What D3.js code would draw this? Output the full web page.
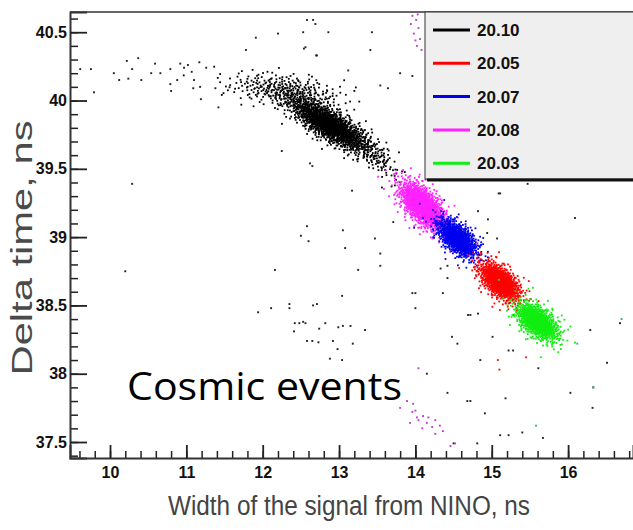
<!DOCTYPE html>
<html>
<head>
<meta charset="utf-8">
<script src="https://cdn.jsdelivr.net/npm/d3@7"></script>
<style>
  body { margin: 0; background: #fff; }
  svg { display: block; }
  .tick text { font-family: "Liberation Sans Narrow", "Liberation Sans", Arial, sans-serif; font-weight: bold; fill: #111; }
</style>
</head>
<body>
<script>
// runs in the legend
var runNames = ["20.10", "20.05", "20.07", "20.08", "20.03"];
var runColours = ["#000000", "#ff0000", "#0000ee", "#ff22ff", "#11ee11"];

// dense clouds:
// [run, centre x, centre y, sigma x, sigma y, correlation, events]
var clouds = [
  ["20.10", 12.30, 40.07, 0.38, 0.065, -0.4, 320],
  ["20.10", 12.88, 39.82, 0.26, 0.10, -0.8, 1500],
  ["20.10", 13.50, 39.58, 0.15, 0.09, -0.7, 100],
  ["20.08", 14.09, 39.23, 0.20, 0.12, -0.6, 120],
  ["20.08", 14.09, 39.23, 0.141, 0.083, -0.6, 1200],
  ["20.07", 14.55, 38.99, 0.18, 0.10, -0.6, 90],
  ["20.07", 14.55, 38.99, 0.128, 0.068, -0.6, 900],
  ["20.05", 15.11, 38.67, 0.19, 0.11, -0.6, 100],
  ["20.05", 15.11, 38.67, 0.13, 0.07, -0.6, 900],
  ["20.03", 15.60, 38.38, 0.19, 0.10, -0.55, 100],
  ["20.03", 15.60, 38.38, 0.13, 0.065, -0.55, 900]
];

// single stray events
var strayBlack = [
  [9.61, 40.23], [9.75, 40.23], [9.79, 40.06], [10.05, 40.20], [10.12, 40.15], [10.22, 40.29],
  [10.24, 40.16], [10.29, 40.23], [10.37, 40.31], [10.41, 40.15], [10.54, 40.20], [10.59, 40.27],
  [10.66, 40.20], [10.79, 40.23], [10.79, 40.12], [10.80, 40.07], [10.88, 40.15], [10.92, 40.27],
  [10.97, 40.24], [11.02, 40.26], [11.07, 40.21], [11.10, 40.15], [11.09, 40.09], [11.17, 40.28],
  [11.18, 40.10], [11.19, 40.01], [11.26, 40.24], [11.38, 40.09], [11.42, 39.95], [10.29, 39.39],
  [11.78, 40.37], [11.91, 40.46], [12.20, 40.49], [12.53, 40.50], [12.66, 40.59], [12.54, 40.38],
  [12.70, 40.33], [12.25, 39.63], [12.62, 39.54], [12.58, 39.08], [12.50, 39.01], [12.60, 38.97],
  [12.58, 40.59], [12.69, 40.56], [12.86, 40.50], [13.43, 40.50], [12.56, 40.39], [12.71, 40.33],
  [13.12, 40.22], [13.41, 40.37], [13.54, 40.11], [13.64, 40.09], [13.80, 40.20], [13.96, 40.18],
  [12.65, 39.52], [13.17, 39.34], [13.05, 39.05], [13.08, 38.92], [13.47, 38.99], [13.54, 38.88],
  [15.09, 39.32], [16.09, 39.14], [14.82, 39.19], [14.94, 39.03], [13.71, 39.11], [14.33, 38.77],
  [14.42, 38.70], [13.96, 38.59], [14.95, 39.13], [15.07, 38.99], [15.47, 39.39], [15.11, 39.32],
  [10.20, 38.75], [12.16, 38.76], [11.94, 38.45], [12.11, 38.48], [12.35, 38.51], [12.35, 38.48],
  [12.66, 38.50], [12.42, 38.37], [12.48, 38.37], [12.53, 38.38], [12.41, 38.31], [12.58, 38.24],
  [12.65, 38.24], [12.73, 38.23], [12.74, 38.33], [12.56, 38.37], [12.71, 38.51], [12.82, 38.37],
  [12.99, 38.34], [13.05, 38.35], [13.15, 38.35], [12.92, 38.24], [12.98, 38.18], [12.88, 38.11],
  [13.04, 38.10], [13.18, 38.22], [13.34, 38.32], [13.04, 38.57], [13.25, 38.76], [13.54, 38.79],
  [14.00, 38.59], [14.00, 38.48], [14.36, 38.59], [14.42, 38.79], [14.48, 38.27], [14.55, 38.22],
  [14.69, 38.43], [14.82, 38.44], [14.72, 37.80], [15.01, 38.27], [14.85, 38.10], [15.22, 38.17],
  [15.28, 38.17], [14.15, 38.00], [14.42, 37.86], [14.91, 37.71], [15.18, 37.82], [15.11, 37.55],
  [15.22, 37.55], [15.40, 37.57], [15.67, 37.53], [15.61, 38.04], [16.29, 38.32], [16.51, 38.08],
  [16.32, 37.75], [16.03, 37.86], [14.50, 37.49], [14.81, 37.49], [14.68, 37.80], [16.68, 38.37],
  [16.33, 37.90], [14.72, 38.43]
];
var strayMagenta = [
  [13.96, 40.62], [14.01, 40.59], [14.04, 40.53], [13.98, 40.49], [14.06, 40.45], [14.02, 40.40],
  [14.08, 40.37], [13.94, 40.56], [14.00, 40.44], [14.03, 40.63],
  [13.80, 37.75], [13.89, 37.80], [13.96, 37.72], [14.02, 37.68], [14.04, 37.66], [14.10, 37.69],
  [14.15, 37.64], [14.22, 37.61], [14.26, 37.66], [14.32, 37.62], [14.36, 37.58], [14.26, 37.56],
  [14.09, 37.60], [13.97, 37.78], [14.04, 38.04], [13.93, 37.64], [14.46, 37.47], [14.52, 37.49],
  [14.00, 37.73], [14.17, 37.68]
];
var strayGreen = [[15.58, 37.62], [16.33, 37.90], [16.70, 38.40], [16.12, 38.22]];
var strayRed = [[15.08, 38.10], [15.10, 38.03], [15.45, 38.12]];

var width = 633, height = 530;
var margin = {left: 70, top: 12, right: 0, bottom: 72};

var xScale = d3.scaleLinear().domain([9.476, 16.85]).range([margin.left, width - margin.right]);
var yScale = d3.scaleLinear().domain([37.383, 40.648]).range([height - margin.bottom, margin.top]);
var colour = d3.scaleOrdinal().domain(runNames).range(runColours);

var svg = d3.select("body").append("svg")
  .attr("width", width)
  .attr("height", height);

svg.append("clipPath").attr("id", "plotclip")
  .append("rect")
    .attr("x", margin.left).attr("y", margin.top)
    .attr("width", width - margin.left - margin.right)
    .attr("height", height - margin.top - margin.bottom);

// deterministic low discrepancy fill for the clouds
function halton(i, b) {
  var f = 1, r = 0;
  while (i > 0) { f /= b; r += f * (i % b); i = Math.floor(i / b); }
  return r;
}

var points = [];
var k = 1;
clouds.forEach(function(c) {
  for (var i = 0; i < c[6]; i++, k++) {
    var u1 = Math.max(halton(k, 2), 1e-6), u2 = halton(k, 3);
    var r = Math.sqrt(-2 * Math.log(u1));
    var z1 = r * Math.cos(2 * Math.PI * u2), z2 = r * Math.sin(2 * Math.PI * u2);
    points.push({
      run: c[0],
      x: c[1] + c[3] * z1,
      y: c[2] + c[4] * (c[5] * z1 + Math.sqrt(1 - c[5] * c[5]) * z2)
    });
  }
});

var plot = svg.append("g").attr("clip-path", "url(#plotclip)");

function drawDots(data, fill, size) {
  plot.append("g").selectAll("rect")
    .data(data)
    .enter()
      .append("rect")
        .attr("x", function(d) { return xScale(d[0]) - size / 2; })
        .attr("y", function(d) { return yScale(d[1]) - size / 2; })
        .attr("width", size)
        .attr("height", size)
        .attr("fill", fill);
}

drawDots(strayBlack, "#222", 1.9);
drawDots(strayMagenta, "#c040d0", 1.9);
drawDots(strayGreen, "#3a9", 1.9);
drawDots(strayRed, "#d22", 1.9);

["20.10", "20.08", "20.07", "20.05", "20.03"].forEach(function(run) {
  drawDots(points.filter(function(p) { return p.run == run; })
                 .map(function(p) { return [p.x, p.y]; }), colour(run), 1.8);
});

// top frame
svg.append("line")
  .attr("x1", margin.left).attr("x2", width)
  .attr("y1", margin.top).attr("y2", margin.top)
  .attr("stroke", "#333").attr("stroke-width", 1.5);

// y axis, ticks pointing inward
var yMajor = d3.range(37.5, 40.51, 0.5);
var yMinor = d3.range(37.4, 40.65, 0.1);
svg.append("g")
  .attr("transform", "translate(" + margin.left + ",0)")
  .call(d3.axisLeft(yScale).tickValues(yMinor).tickSize(-8).tickFormat(""))
  .call(function(g) { g.select(".domain").remove(); })
  .selectAll("line").attr("stroke", "#222").attr("stroke-width", 1.5);

var yAxis = svg.append("g")
  .attr("transform", "translate(" + margin.left + ",0)")
  .call(d3.axisLeft(yScale).tickValues(yMajor).tickSize(-17).tickPadding(3)
        .tickFormat(function(d) { return d3.format("")(+d.toFixed(1)); }));
yAxis.select(".domain").attr("stroke", "#333").attr("stroke-width", 2);
yAxis.selectAll("line").attr("stroke", "#222").attr("stroke-width", 1.8);
yAxis.selectAll("text").attr("font-size", 16);

// x axis
var xMajor = d3.range(10, 16.1, 1);
var xMinor = d3.range(9.6, 16.9, 0.2);
svg.append("g")
  .attr("transform", "translate(0," + (height - margin.bottom) + ")")
  .call(d3.axisBottom(xScale).tickValues(xMinor).tickSize(-7).tickFormat(""))
  .call(function(g) { g.select(".domain").remove(); })
  .selectAll("line").attr("stroke", "#222").attr("stroke-width", 1.5);

var xAxis = svg.append("g")
  .attr("transform", "translate(0," + (height - margin.bottom) + ")")
  .call(d3.axisBottom(xScale).tickValues(xMajor).tickSize(-13).tickPadding(9));
xAxis.select(".domain").attr("stroke", "#333").attr("stroke-width", 2);
xAxis.selectAll("line").attr("stroke", "#222").attr("stroke-width", 1.8);
xAxis.selectAll("text").attr("font-size", 16);

// axis titles
svg.append("text")
  .attr("x", 349).attr("y", 515)
  .attr("text-anchor", "middle")
  .attr("font-family", "Liberation Sans, Arial, sans-serif")
  .attr("font-size", 27)
  .attr("fill", "#444")
  .attr("textLength", 362).attr("lengthAdjust", "spacingAndGlyphs")
  .text("Width of the signal from NINO, ns");

svg.append("text")
  .attr("transform", "translate(32,248) rotate(-90)")
  .attr("text-anchor", "middle")
  .attr("font-family", "Liberation Sans, Arial, sans-serif")
  .attr("font-size", 30)
  .attr("fill", "#4a4a4a")
  .attr("textLength", 255).attr("lengthAdjust", "spacingAndGlyphs")
  .text("Delta time, ns");

// legend
var legend = svg.append("g");
legend.append("rect")
  .attr("x", 425).attr("y", margin.top)
  .attr("width", 230).attr("height", 167)
  .attr("fill", "#efefef")
  .attr("stroke", "#333").attr("stroke-width", 1);
legend.append("line")
  .attr("x1", 427).attr("x2", width)
  .attr("y1", 180).attr("y2", 180)
  .attr("stroke", "#111").attr("stroke-width", 3);

var rows = legend.selectAll("g.row")
  .data(runNames)
  .enter()
    .append("g")
      .attr("class", "row")
      .attr("transform", function(d, i) { return "translate(0," + (30 + i * 33.3) + ")"; });
rows.append("line")
  .attr("x1", 433).attr("x2", 470)
  .attr("stroke", function(d) { return colour(d); })
  .attr("stroke-width", 3);
rows.append("text")
  .attr("x", 477).attr("y", 6)
  .attr("font-family", "Liberation Sans Narrow, Liberation Sans, Arial, sans-serif")
  .attr("font-weight", "bold")
  .attr("font-size", 17)
  .attr("fill", "#111")
  .text(function(d) { return d; });

// annotation
svg.append("text")
  .attr("x", 127).attr("y", 400)
  .attr("font-family", "Open Sans, Noto Sans, sans-serif")
  .attr("font-size", 38)
  .attr("fill", "#000")
  .attr("textLength", 275).attr("lengthAdjust", "spacingAndGlyphs")
  .text("Cosmic events");
</script>
</body>
</html>
